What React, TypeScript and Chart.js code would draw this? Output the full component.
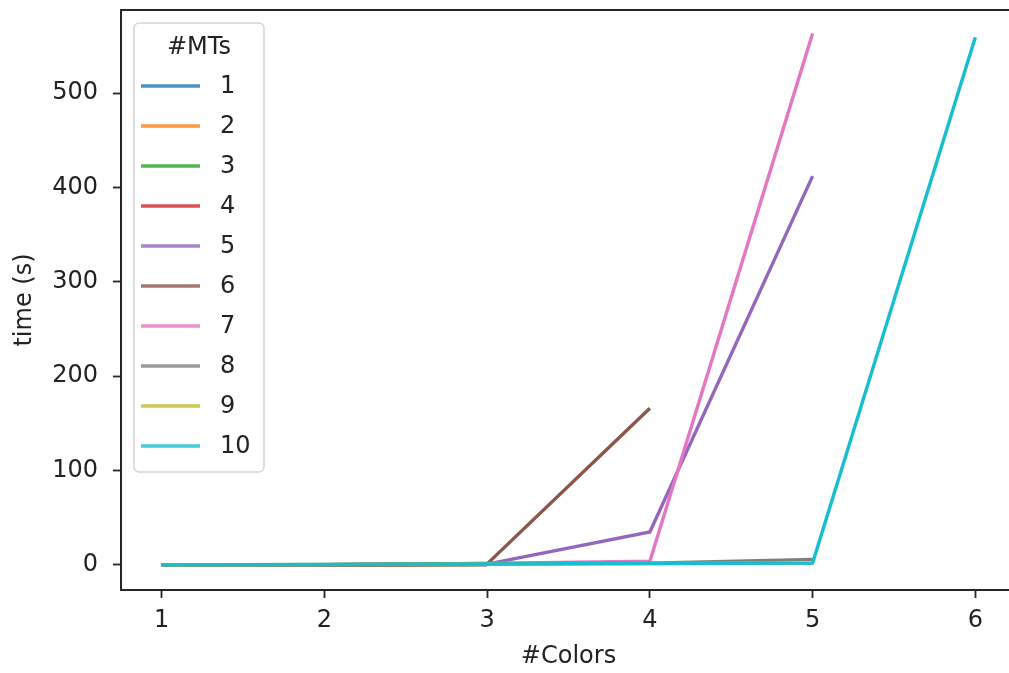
import React, { useEffect, useRef } from "react";
import { Chart, registerables } from "chart.js";

Chart.register(...registerables);

// x positions (#Colors)
const colorCounts = [1, 2, 3, 4, 5, 6];
const xTickValues = [1, 2, 3, 4, 5, 6];
const yTickValues = [0, 100, 200, 300, 400, 500];

// legend labels (#MTs)
const mtLabels = ["1", "2", "3", "4", "5", "6", "7", "8", "9", "10"];

// time (s) per series, indexed by colorCounts
const mt1 = [0.0, 0.1, 0.3];
const mt2 = [0.0, 0.1, 0.4];
const mt3 = [0.0, 0.2, 0.6];
const mt4 = [0.0, 0.2, 0.8];
const mt5 = [0.1, 0.3, 1.0, 35, 412];
const mt6 = [0.1, 0.3, 1.2, 166];
const mt7 = [0.1, 0.4, 1.5, 4, 563];
const mt8 = [0.1, 0.4, 1.5, 2, 6];
const mt9 = [0.1, 0.5, 1.0, 1.5, 2];
const mt10 = [0.1, 0.5, 1.0, 1.5, 2, 559];

const seriesValues = [mt1, mt2, mt3, mt4, mt5, mt6, mt7, mt8, mt9, mt10];
const seriesColors = [
  "#1f77b4", "#ff7f0e", "#2ca02c", "#d62728", "#9467bd",
  "#8c564b", "#e377c2", "#7f7f7f", "#bcbd22", "#17becf",
];
const legendSampleColors = [
  "rgba(31,119,180,0.8)", "rgba(255,127,14,0.8)", "rgba(44,160,44,0.8)",
  "rgba(214,39,40,0.8)", "rgba(148,103,189,0.8)", "rgba(140,86,75,0.8)",
  "rgba(227,119,194,0.8)", "rgba(127,127,127,0.8)", "rgba(188,189,34,0.8)",
  "rgba(23,190,207,0.8)",
];

const FONT = "'DejaVu Sans', 'Liberation Sans', sans-serif";
const TEXT = "#222222";

const spinesAndLegend = {
  id: "spinesAndLegend",
  afterDraw(chart: any) {
    const { ctx, chartArea } = chart;
    const { left, right, top, bottom } = chartArea;
    ctx.save();
    // spines
    ctx.strokeStyle = "#262626";
    ctx.lineWidth = 2;
    ctx.strokeRect(left, top, right - left, bottom - top);

    // legend
    const lx = 134, ly = 23, lw = 130, lh = 449;
    ctx.beginPath();
    if ((ctx as any).roundRect) (ctx as any).roundRect(lx, ly, lw, lh, 5);
    else ctx.rect(lx, ly, lw, lh);
    ctx.fillStyle = "rgba(255,255,255,0.8)";
    ctx.fill();
    ctx.strokeStyle = "#d6d6d6";
    ctx.lineWidth = 1.6;
    ctx.stroke();

    ctx.font = `24px ${FONT}`;
    ctx.fillStyle = TEXT;
    ctx.textAlign = "center";
    ctx.textBaseline = "middle";
    ctx.fillText("#MTs", 199, 48);

    ctx.textAlign = "left";
    mtLabels.forEach((lab, i) => {
      const y = 86 + 40 * i;
      ctx.strokeStyle = legendSampleColors[i];
      ctx.lineWidth = 3.4;
      ctx.beginPath();
      ctx.moveTo(141, y);
      ctx.lineTo(200, y);
      ctx.stroke();
      ctx.fillStyle = TEXT;
      ctx.fillText(lab, 220, y + 1);
    });
    ctx.restore();
  },
};

export default function App() {
  const ref = useRef<HTMLCanvasElement>(null);

  useEffect(() => {
    if (!ref.current) return;
    const datasets = seriesValues.map((vals, i) => ({
      label: mtLabels[i],
      data: vals.map((v, j) => ({ x: colorCounts[j], y: v })),
      borderColor: seriesColors[i],
      backgroundColor: seriesColors[i],
      borderWidth: 3.4,
      pointRadius: 0,
      tension: 0,
      fill: false,
      order: seriesValues.length - i,
    }));

    const chart = new Chart(ref.current, {
      type: "line",
      data: { datasets },
      options: {
        animation: false,
        responsive: false,
        maintainAspectRatio: false,
        layout: { padding: { left: 0, top: 10, right: 24, bottom: 0 } },
        plugins: {
          legend: { display: false },
          tooltip: { enabled: false },
        },
        scales: {
          x: {
            type: "linear",
            min: 0.75,
            max: 6.25,
            afterBuildTicks: (scale: any) => {
              scale.ticks = xTickValues.map((v) => ({ value: v }));
            },
            afterFit: (scale: any) => {
              scale.height = 83;
              scale.paddingLeft = 0;
              scale.paddingRight = 0;
            },
            grid: {
              drawOnChartArea: false,
              drawTicks: true,
              tickLength: 8,
              tickColor: "#262626",
              tickWidth: 1.8,
            },
            border: { display: false },
            ticks: {
              color: TEXT,
              font: { family: FONT, size: 24 },
              padding: 8,
              maxRotation: 0,
              callback: (v: any) => String(v),
            },
            title: {
              display: true,
              text: "#Colors",
              color: TEXT,
              font: { family: FONT, size: 24 },
              padding: { top: 0, bottom: 2 },
            },
          },
          y: {
            type: "linear",
            min: -26.5,
            max: 588,
            afterBuildTicks: (scale: any) => {
              scale.ticks = yTickValues.map((v) => ({ value: v }));
            },
            afterFit: (scale: any) => {
              scale.width = 121;
              scale.paddingTop = 0;
              scale.paddingBottom = 0;
            },
            grid: {
              drawOnChartArea: false,
              drawTicks: true,
              tickLength: 8,
              tickColor: "#262626",
              tickWidth: 1.8,
            },
            border: { display: false },
            ticks: {
              color: TEXT,
              font: { family: FONT, size: 24 },
              padding: 15,
              callback: (v: any) => String(v),
            },
            title: {
              display: true,
              text: "time (s)",
              color: TEXT,
              font: { family: FONT, size: 24 },
              padding: { top: 10, bottom: 0 },
            },
          },
        },
      },
      plugins: [spinesAndLegend],
    });
    return () => chart.destroy();
  }, []);

  return (
    <div
      style={{
        position: "fixed",
        left: 0,
        top: 0,
        width: 1009,
        height: 673,
        overflow: "hidden",
        background: "#ffffff",
      }}
    >
      <canvas ref={ref} width={1040} height={673} style={{ display: "block", width: 1040, height: 673 }} />
    </div>
  );
}
